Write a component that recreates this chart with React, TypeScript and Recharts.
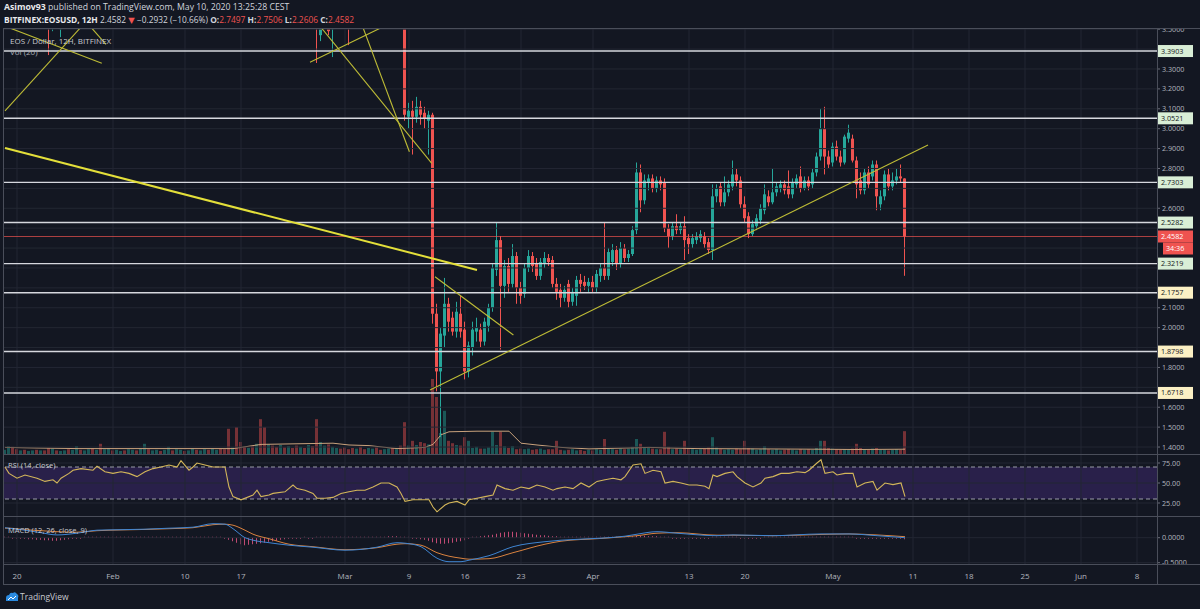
import React from 'react';
import { ComposedChart, Bar, Line, XAxis, YAxis, ReferenceLine, ReferenceArea } from 'recharts';

const BG = '#131722';
const GRID = '#232733';
const SEP = '#4a4e5a';
const TXT = '#b2b5be';
const UP = '#26a69a';
const DOWN = '#ef5350';
const LEVEL_LINE = '#d6d8de';
const FONT = '"Open Sans", "DejaVu Sans", sans-serif';

// time axis: t = number of 12H candles since 20 Jan 2020 00:00
const X_DOMAIN: [number, number] = [-3.25, 285];
const timeTicks = [0, 24, 42, 56, 82, 98, 112, 126, 144, 168, 182, 204, 224, 238, 252, 266, 280];
const timeLabels = ['20', 'Feb', '10', '17', 'Mar', '9', '16', '23', 'Apr', '13', '20', 'May', '11', '18', '25', 'Jun', '8'];

// price scale
const PRICE_DOMAIN: [number, number] = [1.365, 3.501];
const priceGrid = [1.4, 1.5, 1.6, 1.7, 1.8, 1.9, 2.0, 2.1, 2.2, 2.3, 2.4, 2.5, 2.6, 2.7, 2.8, 2.9, 3.0, 3.1, 3.2, 3.3, 3.4, 3.5];
const priceHiddenLabels = [3.4, 2.7, 2.5, 2.4, 2.3, 2.2, 1.9, 1.7];
const levelValues = [3.3903, 3.0521, 2.7303, 2.5282, 2.3219, 2.1757, 1.8798, 1.6718];
const levelTones = ['g', 'g', 'g', 'g', 'g', 'y', 'y', 'y'];
const lastPrice = 2.4582;
const countdown = '34:36';

// [t, open, high, low, close]
const ohlc: [number, number, number, number, number][] = [
  [8, 3.62, 3.70, 3.37, 3.55], [9, 3.55, 3.62, 3.49, 3.58], [11, 3.50, 3.62, 3.46, 3.58],
  [75, 3.62, 3.66, 3.33, 3.52], [76, 3.47, 3.60, 3.44, 3.56], [78, 3.58, 3.61, 3.47, 3.49],
  [79, 3.50, 3.60, 3.36, 3.56], [83, 3.62, 3.66, 3.42, 3.55],
  [97, 3.78, 3.82, 3.04, 3.07], [98, 3.06, 3.13, 3.00, 3.09], [99, 3.09, 3.14, 2.87, 3.06],
  [100, 3.06, 3.16, 3.03, 3.11], [101, 3.11, 3.14, 3.02, 3.07], [102, 3.08, 3.11, 3.00, 3.05],
  [103, 3.04, 3.09, 2.87, 3.07], [104, 3.07, 3.08, 2.02, 2.07], [105, 2.07, 2.12, 1.68, 1.78],
  [106, 1.78, 2.00, 1.45, 1.97], [107, 1.96, 2.25, 1.90, 2.12], [108, 2.12, 2.15, 1.98, 2.03],
  [109, 2.05, 2.08, 1.96, 1.98], [110, 1.98, 2.13, 1.95, 2.08], [111, 2.07, 2.16, 1.95, 1.98],
  [112, 1.99, 2.03, 1.74, 1.78], [113, 1.78, 1.93, 1.75, 1.91], [114, 1.90, 2.03, 1.86, 1.99],
  [115, 1.98, 2.05, 1.93, 2.00], [116, 1.99, 2.02, 1.90, 1.93], [117, 1.93, 2.05, 1.91, 2.03],
  [118, 2.01, 2.12, 1.98, 2.10], [119, 2.10, 2.32, 2.08, 2.30], [120, 2.29, 2.53, 2.26, 2.44],
  [121, 2.44, 2.46, 1.89, 2.21], [122, 2.21, 2.34, 2.15, 2.31], [123, 2.31, 2.35, 2.18, 2.22],
  [124, 2.22, 2.42, 2.20, 2.36], [125, 2.36, 2.38, 2.12, 2.20], [126, 2.20, 2.23, 2.12, 2.16],
  [127, 2.17, 2.32, 2.15, 2.30], [128, 2.30, 2.39, 2.28, 2.36], [129, 2.36, 2.38, 2.28, 2.31],
  [130, 2.32, 2.35, 2.24, 2.26], [131, 2.26, 2.35, 2.24, 2.33], [132, 2.32, 2.38, 2.30, 2.35],
  [133, 2.35, 2.37, 2.31, 2.33], [134, 2.34, 2.36, 2.20, 2.22], [135, 2.22, 2.25, 2.14, 2.18],
  [136, 2.19, 2.22, 2.10, 2.15], [137, 2.15, 2.21, 2.13, 2.19], [138, 2.22, 2.24, 2.10, 2.13],
  [139, 2.13, 2.20, 2.11, 2.18], [140, 2.16, 2.26, 2.11, 2.24], [141, 2.24, 2.27, 2.18, 2.22],
  [142, 2.23, 2.26, 2.19, 2.21], [143, 2.21, 2.25, 2.18, 2.23], [144, 2.23, 2.26, 2.18, 2.20],
  [145, 2.20, 2.29, 2.18, 2.27], [146, 2.26, 2.32, 2.23, 2.30], [147, 2.30, 2.53, 2.24, 2.26],
  [148, 2.26, 2.40, 2.24, 2.38], [149, 2.33, 2.42, 2.31, 2.39], [150, 2.39, 2.41, 2.29, 2.32],
  [151, 2.32, 2.43, 2.30, 2.40], [152, 2.40, 2.42, 2.33, 2.35], [153, 2.35, 2.39, 2.33, 2.37],
  [154, 2.37, 2.51, 2.36, 2.49], [155, 2.49, 2.83, 2.47, 2.78], [156, 2.78, 2.82, 2.58, 2.64],
  [157, 2.64, 2.77, 2.62, 2.74], [158, 2.73, 2.77, 2.69, 2.75], [159, 2.75, 2.77, 2.68, 2.70],
  [160, 2.70, 2.76, 2.68, 2.74], [161, 2.74, 2.76, 2.69, 2.72], [162, 2.73, 2.75, 2.48, 2.50],
  [163, 2.50, 2.52, 2.40, 2.46], [164, 2.46, 2.53, 2.44, 2.51], [165, 2.51, 2.57, 2.47, 2.49],
  [166, 2.49, 2.53, 2.47, 2.51], [167, 2.51, 2.56, 2.34, 2.44], [168, 2.45, 2.47, 2.37, 2.42],
  [169, 2.42, 2.47, 2.40, 2.45], [170, 2.44, 2.48, 2.42, 2.46], [171, 2.45, 2.49, 2.43, 2.47],
  [172, 2.46, 2.48, 2.40, 2.42], [173, 2.43, 2.45, 2.37, 2.39], [174, 2.39, 2.72, 2.34, 2.66],
  [175, 2.66, 2.72, 2.63, 2.70], [176, 2.71, 2.73, 2.61, 2.63], [177, 2.63, 2.76, 2.61, 2.68],
  [178, 2.68, 2.74, 2.66, 2.72], [179, 2.71, 2.84, 2.69, 2.77], [180, 2.77, 2.80, 2.71, 2.74],
  [181, 2.74, 2.76, 2.60, 2.62], [182, 2.62, 2.66, 2.53, 2.55], [183, 2.56, 2.58, 2.45, 2.47],
  [184, 2.47, 2.54, 2.46, 2.52], [185, 2.51, 2.57, 2.49, 2.55], [186, 2.54, 2.62, 2.52, 2.60],
  [187, 2.59, 2.72, 2.57, 2.67], [188, 2.66, 2.69, 2.61, 2.63], [189, 2.63, 2.80, 2.62, 2.68],
  [190, 2.68, 2.73, 2.66, 2.71], [191, 2.70, 2.74, 2.68, 2.72], [192, 2.72, 2.74, 2.67, 2.69],
  [193, 2.71, 2.79, 2.65, 2.67], [194, 2.67, 2.75, 2.65, 2.73], [195, 2.72, 2.77, 2.70, 2.75],
  [196, 2.76, 2.81, 2.68, 2.70], [197, 2.70, 2.76, 2.69, 2.74], [198, 2.74, 2.76, 2.69, 2.71],
  [199, 2.72, 2.80, 2.70, 2.78], [200, 2.78, 2.88, 2.76, 2.86], [201, 2.86, 3.10, 2.84, 3.00],
  [202, 3.00, 3.11, 2.77, 2.86], [203, 2.86, 2.89, 2.80, 2.82], [204, 2.83, 2.93, 2.81, 2.91],
  [205, 2.91, 2.94, 2.84, 2.86], [206, 2.86, 2.89, 2.81, 2.83], [207, 2.83, 2.97, 2.82, 2.96],
  [208, 2.95, 3.02, 2.93, 2.98], [209, 2.95, 2.97, 2.83, 2.84], [210, 2.84, 2.86, 2.65, 2.72],
  [211, 2.74, 2.78, 2.67, 2.69], [212, 2.69, 2.80, 2.67, 2.78], [213, 2.78, 2.81, 2.70, 2.72],
  [214, 2.76, 2.84, 2.74, 2.82], [215, 2.82, 2.84, 2.59, 2.66], [216, 2.62, 2.69, 2.59, 2.66],
  [217, 2.66, 2.79, 2.64, 2.77], [218, 2.77, 2.80, 2.69, 2.71], [219, 2.71, 2.78, 2.69, 2.74],
  [220, 2.74, 2.80, 2.72, 2.76], [221, 2.76, 2.82, 2.73, 2.75], [222, 2.7497, 2.7506, 2.2606, 2.4582],
];

// volume, one value per candle from t = -3 to t = 222
const volumeStart = -3;
const volumes = [
  0.7, 1.3, 1.2, 0.8, 0.6, 0.7, 0.5, 0.6, 0.7, 0.6,
  0.6, 1.0, 0.9, 0.6, 0.5, 0.6, 0.8, 0.7, 1.3, 0.7,
  0.6, 0.8, 0.9, 0.7, 1.7, 0.8, 1.0, 0.6, 0.7, 0.5,
  0.6, 0.8, 0.7, 0.6, 0.9, 1.7, 0.8, 0.6, 0.7, 0.5,
  0.7, 1.2, 0.6, 0.8, 0.7, 0.5, 0.6, 0.9, 0.7, 0.6,
  0.8, 0.7, 0.9, 0.7, 0.9, 0.8, 4.2, 1.1, 4.5, 2.0,
  1.2, 1.0, 1.3, 1.7, 5.8, 4.5, 1.6, 1.4, 1.2, 1.5,
  1.1, 1.3, 1.0, 1.4, 1.2, 1.0, 1.5, 1.3, 5.8, 2.0,
  1.4, 1.6, 1.2, 1.0, 0.9, 1.1, 0.8, 1.0, 0.9, 1.2,
  0.8, 1.0, 0.9, 1.1, 0.7, 0.8, 0.9, 1.0, 0.8, 1.4,
  5.3, 1.4, 2.2, 1.5, 2.0, 1.8, 1.6, 12.5, 9.5, 3.5,
  7.2, 2.2, 1.8, 1.5, 1.4, 2.8, 2.2, 1.0, 1.2, 0.9,
  0.9, 1.1, 3.7, 1.5, 3.7, 1.3, 1.0, 1.3, 0.8, 0.9,
  0.8, 0.9, 0.7, 0.8, 0.9, 0.7, 0.8, 0.8, 2.2, 0.7,
  0.6, 0.7, 0.8, 0.6, 0.7, 0.5, 0.7, 0.6, 0.8, 0.7,
  2.5, 0.9, 0.8, 0.7, 0.9, 0.8, 0.9, 1.2, 2.5, 1.7,
  1.0, 1.0, 0.9, 0.8, 0.8, 3.7, 1.2, 0.8, 0.9, 0.8,
  2.2, 1.0, 0.8, 0.7, 0.8, 0.9, 1.1, 2.8, 1.1, 0.8,
  0.7, 0.8, 0.7, 0.9, 0.8, 2.2, 1.0, 0.9, 0.7, 0.8,
  1.3, 0.8, 0.7, 0.8, 0.6, 0.7, 0.8, 0.7, 0.6, 0.8,
  0.7, 0.8, 0.7, 1.0, 2.2, 2.2, 1.0, 0.9, 0.8, 0.7,
  0.8, 0.7, 0.9, 1.7, 1.0, 0.8, 0.7, 0.9, 1.0, 0.7,
  0.7, 0.6, 0.7, 0.8, 0.7, 3.8,
];
// candle direction for volume bars whose candles are above the visible price range (t -3..96)
const earlyVolumeDirection =
  'uudduduudu' + 'duuduuduud' + 'uududuuduu' + 'duuduuduud' + 'uuduuduudu' +
  'uduudddudd' + 'dududduddu' + 'duddududdu' + 'udduddudud' + 'duudduudud';
const volumeMA: [number, number][] = [
  [-3, 1.1], [5, 1.0], [15, 0.9], [30, 0.9], [45, 0.9], [54, 0.9], [58, 1.3], [61, 1.6], [70, 1.7],
  [79, 1.8], [83, 1.5], [88, 1.4], [95, 0.9], [102, 1.1], [104, 1.6], [106, 3.2], [108, 3.7],
  [115, 3.8], [123, 3.8], [126, 1.8], [130, 1.5], [136, 1.1], [143, 0.85], [158, 1.1], [170, 0.9],
  [185, 0.85], [200, 0.8], [210, 0.75], [222, 0.8],
];
const VOL_DOMAIN: [number, number] = [0, 70.8];

// RSI (14): [t, value]
const rsi: [number, number][] = [
  [-3, 70], [-2, 62], [0, 56], [2, 60], [5, 56], [7, 52], [9, 54], [10, 50], [11, 56], [13, 62], [14, 66],
  [16, 68], [19, 66], [20, 71], [22, 64], [24, 62], [26, 64], [28, 62], [30, 58], [32, 64], [34, 68],
  [36, 70], [38, 72.5], [40, 70], [41, 78], [43, 66], [44, 70], [45, 75], [47, 72.5], [49, 70], [52, 70],
  [53, 45], [54, 33], [56, 29], [59, 35], [60, 41], [61, 33], [63, 35], [64, 37], [67, 39], [69, 47.5],
  [70, 43], [72, 41], [74, 37], [75, 31], [77, 31], [79, 32], [81, 37], [83, 39], [85, 41], [87, 41],
  [89, 45], [91, 50], [93, 50], [95, 45], [96, 37], [97, 27], [99, 29], [101, 29], [103, 29], [104, 20],
  [105, 14], [107, 22.5], [108, 25], [110, 27], [112, 22.5], [113, 29], [115, 31], [117, 33], [119, 35],
  [120, 47.5], [122, 43], [124, 41], [126, 45], [128, 43], [130, 47.5], [132, 45], [134, 41], [135, 43],
  [137, 45], [139, 43], [141, 50], [143, 45], [145, 52], [147, 54], [149, 56], [151, 54], [152, 58],
  [154, 72.5], [156, 74], [157, 62], [159, 66], [161, 64], [162, 50], [164, 52], [166, 50], [168, 47.5],
  [170, 47.5], [172, 46], [173, 43], [174, 60], [175, 58], [177, 62], [179, 64], [180, 58], [182, 50],
  [184, 45], [186, 50], [187, 56], [189, 58], [191, 62], [193, 62], [195, 64], [197, 63], [198, 66],
  [200, 75], [201, 79], [202, 62], [204, 64], [205, 60], [207, 62], [209, 62], [210, 45], [212, 50],
  [214, 52], [215, 41], [217, 50], [219, 48], [221, 50], [222, 33],
];
const RSI_DOMAIN: [number, number] = [8.75, 85];
const rsiTicks = [25, 50, 75];

// MACD (12, 26, 9): [t, macd, signal]
const macd: [number, number, number][] = [
  [-3, 0.20, 0.19], [-2, 0.19, 0.19], [2, 0.15, 0.16], [6, 0.10, 0.14], [10, 0.055, 0.12], [15, 0.09, 0.11],
  [20, 0.15, 0.14], [26, 0.16, 0.155], [32, 0.17, 0.165], [38, 0.19, 0.18], [44, 0.21, 0.20],
  [49, 0.28, 0.26], [52, 0.27, 0.27], [54, 0.18, 0.25], [57, 0.0, 0.15], [59, -0.05, 0.07],
  [63, -0.10, -0.02], [68, -0.15, -0.13], [74, -0.19, -0.18], [82, -0.25, -0.24], [90, -0.19, -0.20],
  [95, -0.10, -0.13], [97, -0.11, -0.12], [101, -0.18, -0.15], [105, -0.41, -0.30], [108, -0.48, -0.37],
  [111, -0.48, -0.41], [113, -0.45, -0.43], [118, -0.36, -0.42], [124, -0.18, -0.30], [132, -0.08, -0.13],
  [136, -0.05, -0.07], [146, -0.01, -0.015], [152, 0.03, 0.02], [155, 0.07, 0.04], [160, 0.12, 0.09],
  [165, 0.09, 0.10], [175, 0.04, 0.05], [179, 0.055, 0.05], [189, 0.04, 0.04], [201, 0.075, 0.065],
  [208, 0.075, 0.075], [215, 0.04, 0.055], [222, 0.0, 0.02],
];
// histogram, one value per candle from t = -3
const histStart = -3;
const histogram = [
  0.01, 0.0, -0.01, -0.01, -0.02, -0.02, -0.03, -0.03, -0.04, -0.04,
  -0.05, -0.05, -0.06, -0.06, -0.05, -0.04, -0.03, -0.02, -0.02, -0.01,
  0.0, 0.01, 0.01, 0.01, 0.01, 0.01, 0.0, 0.01, 0.01, 0.01,
  0.0, 0.0, 0.01, 0.01, 0.0, 0.0, 0.01, 0.01, 0.01, 0.01,
  0.01, 0.01, 0.01, 0.0, 0.01, 0.01, 0.01, 0.01, 0.02, 0.02,
  0.02, 0.02, 0.02, 0.01, 0.0, -0.01, -0.04, -0.07, -0.10, -0.13,
  -0.15, -0.14, -0.13, -0.12, -0.11, -0.10, -0.08, -0.07, -0.06, -0.04,
  -0.03, -0.02, -0.02, -0.01, -0.01, 0.0, -0.01, -0.01, 0.0, 0.01,
  0.01, 0.01, 0.01, 0.01, 0.01, 0.01, 0.02, 0.02, 0.02, 0.02,
  0.02, 0.02, 0.01, 0.01, 0.02, 0.02, 0.03, 0.03, 0.03, 0.02,
  0.01, 0.0, -0.01, -0.02, -0.03, -0.04, -0.06, -0.09, -0.11, -0.12,
  -0.12, -0.11, -0.10, -0.08, -0.07, -0.05, -0.02, 0.0, 0.02, 0.03,
  0.04, 0.05, 0.06, 0.08, 0.10, 0.11, 0.12, 0.12, 0.11, 0.10,
  0.09, 0.08, 0.07, 0.06, 0.05, 0.05, 0.04, 0.03, 0.03, 0.02,
  0.02, 0.01, 0.01, 0.01, 0.01, 0.0, 0.0, 0.01, 0.01, 0.01,
  0.01, 0.01, 0.01, 0.01, 0.02, 0.02, 0.02, 0.03, 0.04, 0.04,
  0.04, 0.03, 0.03, 0.03, 0.02, 0.01, 0.0, -0.01, -0.01, -0.02,
  -0.02, -0.02, -0.02, -0.02, -0.02, -0.02, -0.01, 0.0, 0.0, 0.0,
  0.0, 0.01, 0.01, 0.0, -0.01, -0.01, -0.02, -0.01, -0.01, -0.01,
  0.0, 0.0, 0.0, 0.0, 0.0, 0.01, 0.01, 0.01, 0.01, 0.01,
  0.01, 0.01, 0.01, 0.01, 0.02, 0.01, 0.01, 0.01, 0.0, 0.0,
  0.0, 0.0, 0.0, -0.01, -0.01, -0.01, -0.02, -0.02, -0.02, -0.02,
  -0.02, -0.02, -0.02, -0.02, -0.02, -0.03,
];
const MACD_DOMAIN: [number, number] = [-0.526, 0.414];
const macdTicks = [0, -0.5];

// drawn trend lines, anchored in (t, price)
const trendLines: { a: [number, number]; b: [number, number]; bold?: boolean }[] = [
  { a: [-3, 2.903], b: [115, 2.29], bold: true },
  { a: [103.25, 1.687], b: [227.75, 2.918] },
  { a: [104.5, 2.256], b: [124.1, 1.963] },
  { a: [74.5, 3.546], b: [103.7, 2.826] },
  { a: [85.8, 3.546], b: [98.1, 2.884] },
  { a: [73.25, 3.334], b: [95, 3.546] },
  { a: [-3, 3.089], b: [17.6, 3.546] },
  { a: [-7, 3.546], b: [21.2, 3.329] },
  { a: [18.7, 3.505], b: [22.25, 3.424] },
];

// ---------- derived tables ----------
const candleRows = ohlc.map(([t, o, h, l, c]) => ({ t, o, h, l, c }));
const candleByT = new Map(candleRows.map((r) => [r.t, r]));
const maByT = new Map(volumeMA);
const volRows = volumes.map((v, i) => {
  const t = volumeStart + i;
  const cd = candleByT.get(t);
  const up = cd ? cd.c >= cd.o : earlyVolumeDirection[i] === 'u';
  return { t, vol: v, up, volMa: maByT.has(t) ? maByT.get(t) : null };
});
const rsiRows = rsi.map(([t, v]) => ({ t, rsi: v }));
const macdByT = new Map(macd.map(([t, m, s]) => [t, { m, s }]));
const macdRows = histogram.map((h, i) => {
  const t = histStart + i;
  const m = macdByT.get(t);
  return { t, hist: h, macd: m ? m.m : null, signal: m ? m.s : null };
});
const priceLabelTicks = priceGrid.filter((p) => !priceHiddenLabels.includes(p));
const mainTicks = [...priceLabelTicks, ...levelValues, lastPrice];

// ---------- renderers ----------
const Candle = (props: any) => {
  const { x, y, width, height, payload } = props;
  if (!payload || payload.o == null || !isFinite(y) || !isFinite(height)) return null;
  const { o, h, l, c } = payload;
  const top = Math.min(y, y + height);
  const bottom = Math.max(y, y + height);
  const k = h - l > 0 ? (bottom - top) / (h - l) : 0;
  const yo = top + (h - o) * k;
  const yc = top + (h - c) * k;
  const color = c >= o ? UP : DOWN;
  const cx = x + width / 2;
  const bt = Math.min(yo, yc);
  const bh = Math.max(1, Math.abs(yo - yc));
  return (
    <g>
      <line x1={cx} x2={cx} y1={top} y2={bottom} stroke={color} strokeWidth={1} />
      <rect x={x} y={bt} width={width} height={bh} fill={color} />
    </g>
  );
};

const VolumeBar = (props: any) => {
  const { x, y, width, height, payload } = props;
  if (!payload || !isFinite(y) || height <= 0) return null;
  return <rect x={x} y={y} width={width} height={height} fill={payload.up ? UP : DOWN} fillOpacity={0.45} />;
};

const PriceTick = (props: any) => {
  const { x, y, payload } = props;
  const v = payload.value as number;
  const idx = levelValues.indexOf(v);
  if (v === lastPrice) {
    return (
      <g>
        <rect x={x - 4} y={y - 6} width={35} height={12} fill={DOWN} />
        <text x={x - 1} y={y} dy="0.35em" fontSize={7.2} fill="#ffffff" fontFamily={FONT}>{v.toFixed(4)}</text>
        <rect x={x + 1} y={y + 6} width={30} height={12} fill={DOWN} />
        <text x={x + 4} y={y + 12} dy="0.35em" fontSize={7.2} fill="#ffffff" fontFamily={FONT}>{countdown}</text>
      </g>
    );
  }
  if (idx >= 0) {
    const bg = levelTones[idx] === 'g' ? '#d9eed6' : '#fbf0c4';
    return (
      <g>
        <rect x={x - 4} y={y - 6} width={35} height={12} fill={bg} />
        <text x={x - 1} y={y} dy="0.35em" fontSize={7.2} fill="#131722" fontFamily={FONT}>{v.toFixed(4)}</text>
      </g>
    );
  }
  return (
    <text x={x} y={y} dy="0.35em" fontSize={7.2} fill={TXT} fontFamily={FONT}>{v.toFixed(4)}</text>
  );
};

const makeValueTick = (digits: number) => (props: any) => {
  const { x, y, payload } = props;
  return (
    <text x={x} y={y} dy="0.35em" fontSize={7.2} fill={TXT} fontFamily={FONT}>
      {(payload.value as number).toFixed(digits)}
    </text>
  );
};
const RsiTick = makeValueTick(2);
const MacdTick = makeValueTick(4);

const TimeTick = (props: any) => {
  const { x, y, payload } = props;
  const i = timeTicks.indexOf(payload.value);
  return (
    <text x={x} y={y} dy="0.85em" textAnchor="middle" fontSize={8} fill={TXT} fontFamily={FONT}>
      {i >= 0 ? timeLabels[i] : ''}
    </text>
  );
};

const CHART_W = 1196;
const AXIS_W = 43;
const MAIN_TOP = 29;
const MAIN_H = 425;
const RSI_TOP = 455;
const RSI_H = 61;
const MACD_TOP = 517;
const MACD_H = 67;

const pane = (top: number, h: number): React.CSSProperties => ({
  position: 'absolute', left: 4, top, width: CHART_W, height: h, overflow: 'hidden',
});

const vGrid = () =>
  timeTicks.map((t) => (
    <ReferenceLine key={`vg${t}`} x={t} stroke={GRID} strokeWidth={1} ifOverflow="visible" />
  ));

const hLine = (style: React.CSSProperties): React.CSSProperties => ({
  position: 'absolute', height: 1, background: SEP, ...style,
});

export default function App() {
  const txt: React.CSSProperties = { position: 'absolute', fontFamily: FONT, whiteSpace: 'pre' };
  return (
    <div style={{ position: 'absolute', left: 0, top: 0, width: 1200, height: 609, background: BG, overflow: 'hidden' }}>
      {/* header */}
      <div style={{ ...txt, left: 4, top: 1, fontSize: 8.7, lineHeight: '12px', color: '#d1d4dc' }}>
        <b style={{ color: '#e8e9ec' }}>Asimov93</b> published on TradingView.com, May 10, 2020 13:25:28 CEST
      </div>
      <div style={{ ...txt, left: 4, top: 13.5, fontSize: 8.4, lineHeight: '12px', color: '#d1d4dc' }}>
        <b style={{ color: '#e8e9ec' }}>BITFINEX:EOSUSD, 12H</b> 2.4582 <span style={{ color: DOWN }}>▼</span> −0.2932 (−10.66%){' '}
        <b>O:</b><span style={{ color: DOWN }}>2.7497</span> <b>H:</b><span style={{ color: DOWN }}>2.7506</span>{' '}
        <b>L:</b><span style={{ color: DOWN }}>2.2606</span> <b>C:</b><span style={{ color: DOWN }}>2.4582</span>
      </div>

      {/* volume layer */}
      <div style={pane(MAIN_TOP, MAIN_H)}>
        <ComposedChart width={CHART_W} height={MAIN_H} data={volRows} margin={{ top: 0, right: AXIS_W, bottom: 0, left: 0 }}>
          <XAxis type="number" dataKey="t" domain={X_DOMAIN} allowDataOverflow hide />
          <YAxis domain={VOL_DOMAIN} allowDataOverflow hide />
          {vGrid()}
          <Bar dataKey="vol" barSize={3} shape={<VolumeBar />} isAnimationActive={false} />
          <Line dataKey="volMa" type="linear" stroke="#c9a27c" strokeWidth={1} dot={false} connectNulls isAnimationActive={false} />
        </ComposedChart>
      </div>

      {/* price layer */}
      <div style={pane(MAIN_TOP, MAIN_H)}>
        <ComposedChart width={CHART_W} height={MAIN_H} data={candleRows} margin={{ top: 0, right: 0, bottom: 0, left: 0 }}>
          <XAxis type="number" dataKey="t" domain={X_DOMAIN} allowDataOverflow hide />
          <YAxis
            orientation="right"
            width={AXIS_W}
            domain={PRICE_DOMAIN}
            allowDataOverflow
            ticks={mainTicks}
            interval={0}
            tick={PriceTick}
            tickSize={3}
            tickMargin={2}
            tickLine={{ stroke: '#6a6d78' }}
            axisLine={false}
          />
          {priceGrid.map((p) => (
            <ReferenceLine key={`hg${p}`} y={p} stroke={GRID} strokeWidth={1} ifOverflow="visible" />
          ))}
          <ReferenceLine y={lastPrice} stroke={DOWN} strokeOpacity={0.7} strokeWidth={1} ifOverflow="visible" />
          {levelValues.map((v) => (
            <ReferenceLine key={`lv${v}`} y={v} stroke={LEVEL_LINE} strokeWidth={1.4} ifOverflow="visible" />
          ))}
          <Bar dataKey={(d: any) => [d.l, d.h]} barSize={3} shape={<Candle />} isAnimationActive={false} />
          {trendLines.map((tl, i) => (
            <ReferenceLine
              key={`tl${i}`}
              segment={[{ x: tl.a[0], y: tl.a[1] }, { x: tl.b[0], y: tl.b[1] }]}
              stroke={tl.bold ? '#e3df3a' : '#bdbb36'}
              strokeWidth={tl.bold ? 2 : 1.1}
              ifOverflow="visible"
            />
          ))}
        </ComposedChart>
      </div>
      <div style={{ ...txt, left: 10, top: 35, fontSize: 8, color: '#c8cad0' }}>EOS / Dollar, 12H, BITFINEX</div>
      <div style={{ ...txt, left: 10, top: 46, fontSize: 8, color: '#a8abb4' }}>Vol (20)</div>

      {/* RSI */}
      <div style={pane(RSI_TOP, RSI_H)}>
        <ComposedChart width={CHART_W} height={RSI_H} data={rsiRows} margin={{ top: 0, right: 0, bottom: 0, left: 0 }}>
          <XAxis type="number" dataKey="t" domain={X_DOMAIN} allowDataOverflow hide />
          <YAxis
            orientation="right"
            width={AXIS_W}
            domain={RSI_DOMAIN}
            allowDataOverflow
            ticks={rsiTicks}
            interval={0}
            tick={RsiTick}
            tickSize={3}
            tickMargin={2}
            tickLine={{ stroke: '#6a6d78' }}
            axisLine={false}
          />
          <ReferenceArea y1={30} y2={70} fill="#6a3bbf" fillOpacity={0.26} stroke="none" ifOverflow="visible" />
          {vGrid()}
          {rsiTicks.map((v) => (
            <ReferenceLine key={`rg${v}`} y={v} stroke={GRID} ifOverflow="visible" />
          ))}
          <ReferenceLine y={70} stroke="#9a9ca6" strokeDasharray="4 3" ifOverflow="visible" />
          <ReferenceLine y={30} stroke="#9a9ca6" strokeDasharray="4 3" ifOverflow="visible" />
          <Line dataKey="rsi" type="linear" stroke="#d3b65a" strokeWidth={1.1} dot={false} isAnimationActive={false} />
        </ComposedChart>
      </div>
      <div style={{ ...txt, left: 8, top: 460, fontSize: 7.5, color: '#c8cad0' }}>RSI (14, close)</div>

      {/* MACD + time axis */}
      <div style={pane(MACD_TOP, MACD_H)}>
        <ComposedChart width={CHART_W} height={MACD_H} data={macdRows} margin={{ top: 0, right: 0, bottom: 0, left: 0 }}>
          <XAxis
            type="number"
            dataKey="t"
            domain={X_DOMAIN}
            allowDataOverflow
            ticks={timeTicks}
            interval={0}
            height={20}
            tick={TimeTick}
            tickLine={false}
            tickSize={6}
            tickMargin={2}
            axisLine={false}
          />
          <YAxis
            orientation="right"
            width={AXIS_W}
            domain={MACD_DOMAIN}
            allowDataOverflow
            ticks={macdTicks}
            interval={0}
            tick={MacdTick}
            tickSize={3}
            tickMargin={2}
            tickLine={{ stroke: '#6a6d78' }}
            axisLine={false}
          />
          {vGrid()}
          {macdTicks.map((v) => (
            <ReferenceLine key={`mg${v}`} y={v} stroke={GRID} ifOverflow="visible" />
          ))}
          <Bar dataKey="hist" barSize={1} fill="#d4507c" fillOpacity={0.9} minPointSize={1} isAnimationActive={false} />
          <Line dataKey="signal" type="monotone" stroke="#d9823f" strokeWidth={1} dot={false} connectNulls isAnimationActive={false} />
          <Line dataKey="macd" type="monotone" stroke="#3f85d2" strokeWidth={1} dot={false} connectNulls isAnimationActive={false} />
        </ComposedChart>
      </div>
      <div style={{ ...txt, left: 8, top: 525, fontSize: 7.5, color: '#c8cad0' }}>MACD (12, 26, close, 9)</div>

      {/* frame & separators */}
      <div style={hLine({ left: 3, top: 28, width: 1197 })} />
      <div style={hLine({ left: 3, top: 454, width: 1197 })} />
      <div style={hLine({ left: 3, top: 516, width: 1197 })} />
      <div style={hLine({ left: 3, top: 564, width: 1197 })} />
      <div style={hLine({ left: 3, top: 584, width: 1197 })} />
      <div style={{ position: 'absolute', left: 3, top: 28, width: 1, height: 557, background: SEP }} />
      <div style={{ position: 'absolute', left: 1157, top: 28, width: 1, height: 557, background: SEP }} />

      {/* logo */}
      <svg style={{ position: 'absolute', left: 5, top: 591 }} width={14} height={11} viewBox="0 0 14 11">
        <path d="M1 10 L1 7 Q1 4 4 4 Q5 1 8 2 Q10 0 12 3 Q14 4 13 7 L13 10 Z" fill="#2a8ae0" />
        <path d="M3 9 L6 6 L8 8 L11 5" stroke="#ffffff" strokeWidth={1} fill="none" />
      </svg>
      <div style={{ ...txt, left: 20, top: 591, fontSize: 8.5, color: '#c8cad0' }}>TradingView</div>
    </div>
  );
}
